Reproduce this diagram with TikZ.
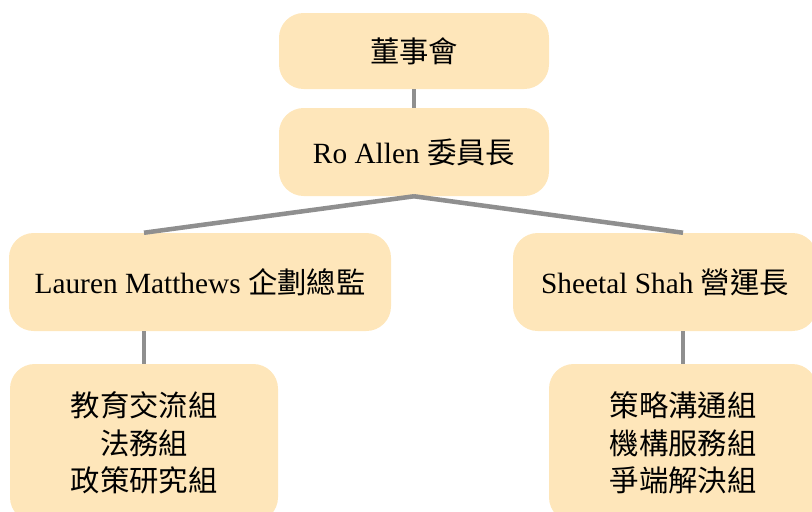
\documentclass[tikz,border=0pt]{standalone}
\usepackage{fontspec}
\setmainfont{Liberation Serif}
\newfontfamily\cjk{Noto Sans CJK TC}
\definecolor{boxfill}{RGB}{254,230,186}
\definecolor{linkgray}{RGB}{143,143,143}
\begin{document}
\begin{tikzpicture}[x=0.75pt,y=-0.75pt,
  orgbox/.style={rectangle, rounded corners=18.5pt, fill=boxfill, draw=none,
    align=center, font=\fontsize{22}{28.2}\selectfont, inner sep=0pt},
  link/.style={draw=linkgray, line width=3.4pt}]
\useasboundingbox (0,0) rectangle (812,511);
\clip (0,0) rectangle (812,511);
\node[orgbox, minimum width=202.5pt, minimum height=57pt] (board) at (414,51) {{\cjk 董事會}};
\node[orgbox, minimum width=202.5pt, minimum height=66pt] (chair) at (414,152) {Ro Allen {\cjk 委員長}};
\node[orgbox, minimum width=286.5pt, minimum height=73.5pt] (plan) at (200,282) {Lauren Matthews {\cjk 企劃總監}};
\node[orgbox, minimum width=228pt, minimum height=73.5pt] (ops) at (665,282) {Sheetal Shah {\cjk 營運長}};
\node[orgbox, minimum width=201pt, minimum height=118.5pt] (planteams) at (144,443) {{\cjk 教育交流組}\\{\cjk 法務組}\\{\cjk 政策研究組}};
\node[orgbox, minimum width=201pt, minimum height=118.5pt] (opsteams) at (683,443) {{\cjk 策略溝通組}\\{\cjk 機構服務組}\\{\cjk 爭端解決組}};
\draw[link] (board.south) -- (chair.north);
\draw[link] (chair.south) -- (planteams.north |- plan.north);
\draw[link] (chair.south) -- (opsteams.north |- ops.north);
\draw[link] (plan.south -| planteams.north) -- (planteams.north);
\draw[link] (ops.south -| opsteams.north) -- (opsteams.north);
\end{tikzpicture}
\end{document}
